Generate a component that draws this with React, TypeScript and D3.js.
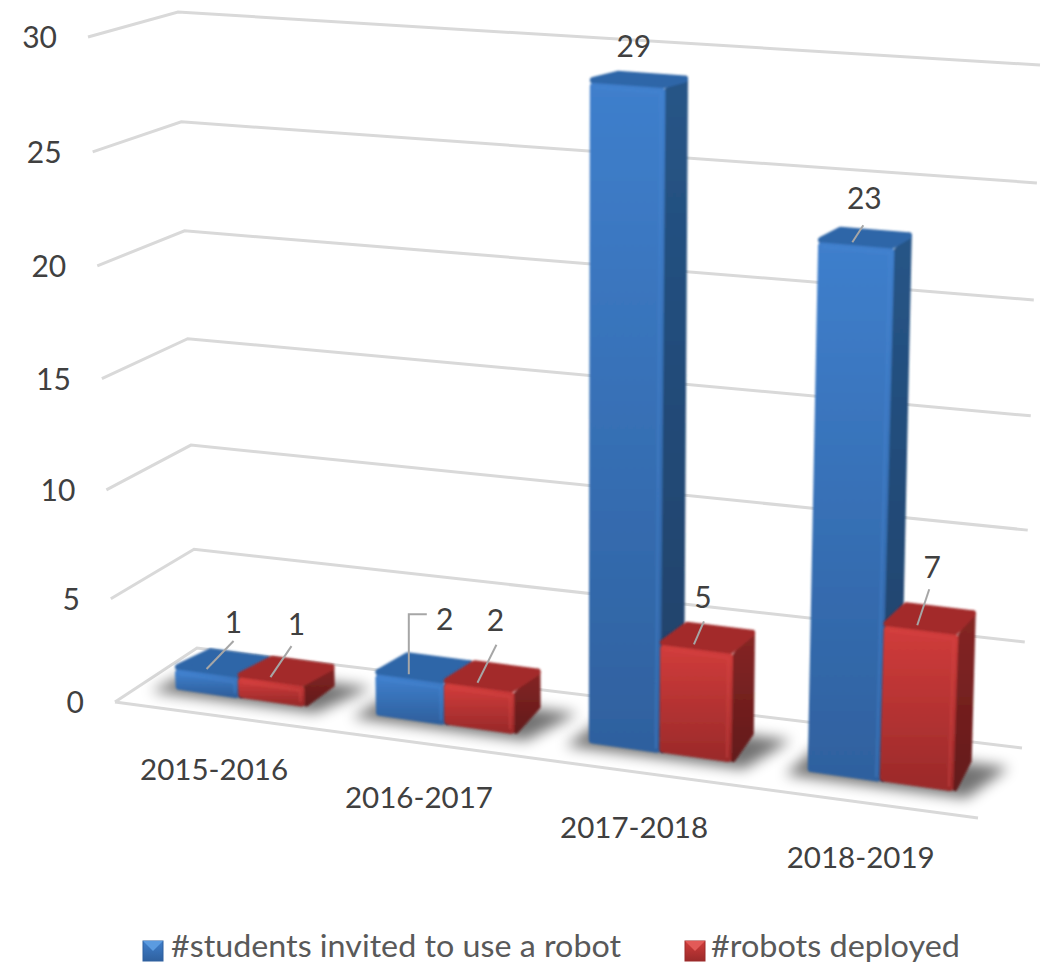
import * as d3 from "d3"

const categories = ["2015-2016", "2016-2017", "2017-2018", "2018-2019"]
const students = [1, 2, 29, 23]
const robots = [1, 2, 5, 7]
const ticks = [0, 5, 10, 15, 20, 25, 30]
const legendLabels = ["#students invited to use a robot", "#robots deployed"]

// corners of the 3d box on screen, [front, back]
const floorLeft = [[115, 702], [197, 648]]
const floorRight = [[978, 818], [1022, 748]]
const topLeft = [[88, 37], [178, 12]]
const topRight = [[1005, 98], [1040, 65]]

const band = d3.scaleBand().domain(categories).range([0, 1]).paddingInner(0.35).paddingOuter(0.175)
const perspX = d3.scalePow().exponent(1.06).domain([0, 1]).range([0.005, 1])
const perspY = d3.scalePow().exponent(1.04).domain([0, 30]).range([0, 1])

const mix = d3.interpolateNumber
function project(t: number, z: number, v: number): [number, number] {
  const h = perspY(v)
  const at = (c: number) => {
    const fl = mix(floorLeft[0][c], floorLeft[1][c])(z)
    const fr = mix(floorRight[0][c], floorRight[1][c])(z)
    const tl = mix(topLeft[0][c], topLeft[1][c])(z)
    const tr = mix(topRight[0][c], topRight[1][c])(z)
    return mix(mix(fl, fr)(t), mix(tl, tr)(t))(h)
  }
  return [at(0), at(1)]
}

const poly = (pts: [number, number][]) => d3.line()(pts) + "Z"

// pull corners in so a thick round stroke gives the bevelled look
function inset(pts: [number, number][], px: number): [number, number][] {
  const cx = d3.mean(pts, (p) => p[0])!
  const cy = d3.mean(pts, (p) => p[1])!
  return pts.map(([x, y]) => {
    const dx = cx - x
    const dy = cy - y
    return [x + Math.sign(dx) * Math.min(px, Math.abs(dx)), y + Math.sign(dy) * Math.min(px, Math.abs(dy))]
  })
}

const Z0 = 0.32
const Z1 = 0.72

const seriesList = [
  { key: "blue", values: students, front: "url(#blueFront)", side: "url(#blueSide)", top: "#2f66a8", hi: "#4a8ad6" },
  { key: "red", values: robots, front: "url(#redFront)", side: "url(#redSide)", top: "#a32b2c", hi: "#dc4a48" },
]

// leader end and label centre, relative to the bar's top face
const leaders = [
  [[27, -28], [0, -60], null, [11, -17]],
  [[21, -31], [19, -38], [10, -23], [12, -36]],
]
const labelShift = [
  [[27, -46], [36, -54], [9, -36], [12, -43]],
  [[26, -52], [18, -62], [9, -46], [15, -57]],
]
const labelWidth = 148

const font = "Lato, 'Noto Sans', sans-serif"
const ink = "#404040"

function Bar({ t0, t1, v, s }: { t0: number; t1: number; v: number; s: (typeof seriesList)[number] }) {
  const a = project(t0, Z0, 0), b = project(t1, Z0, 0), c = project(t1, Z1, 0)
  const d = project(t0, Z0, v), e = project(t1, Z0, v), f = project(t1, Z1, v), g = project(t0, Z1, v)
  return (
    <g strokeLinejoin="round" filter="url(#soft)">
      <path d={poly(inset([b, c, f, e], 2))} fill={s.side} stroke={s.side} strokeWidth={5} />
      <path d={poly(inset([d, e, f, g], 3))} fill={s.top} stroke={s.top} strokeWidth={7} />
      <path d={poly(inset([a, b, e, d], 3))} fill={s.front} stroke={s.front} strokeWidth={7} />
      <path d={d3.line()(inset([d, e, b, a], 4).slice(0, 3))!} fill="none" stroke={s.hi} strokeWidth={2} opacity={0.4} />
    </g>
  )
}

export default function App() {
  const tOf = (u: number) => perspX(u)
  return (
    <svg width={1044} height={964} style={{ position: "absolute", left: 0, top: 0 }}>
      <defs>
        <linearGradient id="blueFront" x1="0" y1="0" x2="0" y2="1">
          <stop offset="0" stopColor="#3f7fcc" />
          <stop offset="1" stopColor="#2f619f" />
        </linearGradient>
        <linearGradient id="blueSide" x1="0" y1="0" x2="0" y2="1">
          <stop offset="0" stopColor="#265587" />
          <stop offset="1" stopColor="#1f4068" />
        </linearGradient>
        <linearGradient id="redFront" x1="0" y1="0" x2="0" y2="1">
          <stop offset="0" stopColor="#d03c3b" />
          <stop offset="1" stopColor="#9b2a2a" />
        </linearGradient>
        <linearGradient id="redSide" x1="0" y1="0" x2="0" y2="1">
          <stop offset="0" stopColor="#862625" />
          <stop offset="1" stopColor="#631a1a" />
        </linearGradient>
        <filter id="soft" x="-10%" y="-10%" width="120%" height="120%">
          <feGaussianBlur stdDeviation="0.8" />
        </filter>
        <filter id="shadow" x="-30%" y="-80%" width="160%" height="260%">
          <feGaussianBlur stdDeviation="7" />
        </filter>
      </defs>

      {/* walls and floor */}
      <g fill="none" stroke="#d9d9d9" strokeWidth={3}>
        {ticks.map((v) => (
          <path key={v} d={d3.line()([project(0, 0, v), project(0, 1, v), project(1, 1, v)])!} />
        ))}
        <path d={d3.line()([project(0, 0, 0), project(1, 0, 0)])!} />
      </g>

      {ticks.map((v) => {
        const [x, y] = project(0, 0, v)
        return (
          <text key={v} x={x - 31} y={y + 11} textAnchor="end" fontFamily={font} fontSize={30} fill={ink}>
            {v}
          </text>
        )
      })}

      {categories.map((cat, i) => {
        const u0 = band(cat)!
        const w = band.bandwidth()
        const shadow = [
          project(tOf(u0) - 0.022, Z0 - 0.08, 0),
          project(tOf(u0 + w) + 0.02, Z0 - 0.08, 0),
          project(tOf(u0 + w) + 0.045, Z1, 0),
          project(tOf(u0) - 0.01, Z1, 0),
        ] as [number, number][]
        const [lx, ly] = project(tOf(u0 + w / 2), 0, 0)
        return (
          <g key={cat}>
            <path d={poly(shadow)} fill="#000" opacity={0.55} filter="url(#shadow)" />
            {seriesList.map((s, j) => (
              <Bar key={s.key} t0={tOf(u0 + (j * w) / 2)} t1={tOf(u0 + ((j + 1) * w) / 2)} v={s.values[i]} s={s} />
            ))}
            <text
              x={lx - (i === 0 ? 0 : i === 2 ? 7 : 4)}
              y={ly + 65}
              textAnchor="middle"
              fontFamily={font}
              fontSize={29}
              fill={ink}
              textLength={labelWidth}
              lengthAdjust="spacingAndGlyphs"
            >
              {cat}
            </text>
          </g>
        )
      })}

      {categories.map((cat, i) =>
        seriesList.map((s, j) => {
          const u0 = band(cat)! + (j * band.bandwidth()) / 2
          const [ax, ay] = project(tOf(u0 + band.bandwidth() * 0.2), Z0 + 0.08, s.values[i])
          const lead = leaders[j][i]
          const shift = labelShift[j][i]
          const elbow = j === 0 && i === 1
          return (
            <g key={s.key + cat}>
              {lead && (
                <path
                  d={d3.line()(
                    elbow
                      ? [[ax, ay], [ax + lead[0], ay + lead[1]], [ax + 18, ay + lead[1]]]
                      : [[ax, ay], [ax + lead[0], ay + lead[1]]],
                  )!}
                  fill="none"
                  stroke="#a6a6a6"
                  strokeWidth={2}
                />
              )}
              <text x={ax + shift[0]} y={ay + shift[1] + 10} textAnchor="middle" fontFamily={font} fontSize={30} fill={ink}>
                {s.values[i]}
              </text>
            </g>
          )
        }),
      )}

      {/* legend */}
      <g>
        <rect x={143} y={941} width={20} height={20} fill="url(#blueFront)" stroke="#2f619f" />
        <path d="M143 941h20l-10 10Z" fill="#5b9be0" />
        <text x={171} y={957} fontFamily={font} fontSize={30} fill="#595959" textLength={450} lengthAdjust="spacingAndGlyphs">
          {legendLabels[0]}
        </text>
        <rect x={685} y={941} width={20} height={20} fill="url(#redFront)" stroke="#9b2a2a" />
        <path d="M685 941h20l-10 10Z" fill="#e25a58" />
        <text x={711} y={957} fontFamily={font} fontSize={30} fill="#595959" textLength={249} lengthAdjust="spacingAndGlyphs">
          {legendLabels[1]}
        </text>
      </g>
    </svg>
  )
}
